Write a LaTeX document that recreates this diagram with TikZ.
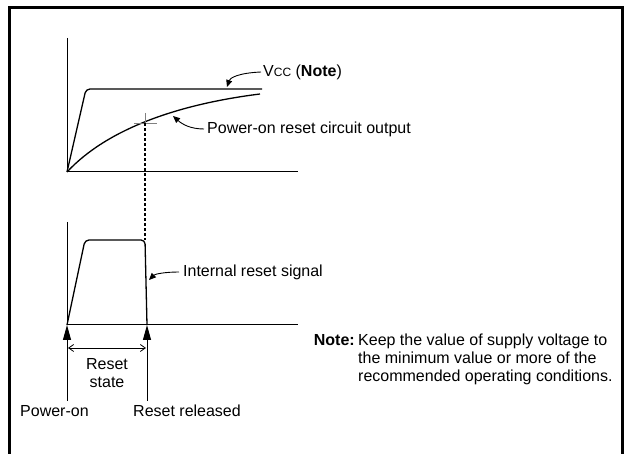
\documentclass[tikz,border=0pt]{standalone}
\usepackage{fontspec}
\setmainfont{Liberation Sans}
\usetikzlibrary{arrows.meta}
\begin{document}
\begin{tikzpicture}[x=1pt,y=-1pt,
  ln/.style={line width=1.3pt},
  axis/.style={line width=1pt},
  lbl/.style={font=\fontsize{16}{18}\selectfont, inner sep=0pt},
  pointer/.style={line width=0.9pt,-{Triangle[length=7pt,width=6pt]}},
  uparrow/.style={line width=1pt,-{Triangle[length=15pt,width=8pt]}},
  span/.style={line width=0.8pt,{Straight Barb[length=5pt,width=7pt]}-{Straight Barb[length=5pt,width=7pt]}}]
\useasboundingbox (0,0) rectangle (630,454);
% frame
\draw[line width=3pt] (9.5,454) -- (9.5,7.5) -- (622.5,7.5) -- (622.5,454);
% top plot axes
\coordinate (o1) at (67,172);
\coordinate (y1) at (67,38);
\coordinate (x1) at (298,172);
\draw[axis] (y1) -- (o1) -- (x1);
% Vcc curve
\coordinate (vccend) at (262,89);
\draw[ln,rounded corners=4pt] (o1) -- (86,89) -- (vccend);
% power-on reset output curve
\coordinate (porend) at (260,94);
\draw[ln] (o1) .. controls (108,128) and (180,104) .. (porend);
% crosshair and dashed line
\coordinate (cross) at (145,123);
\draw[line width=0.6pt,gray] (134,123) -- (157,123);
\draw[line width=0.6pt,gray] (145,113) -- (cross);
\coordinate (dashend) at (145,240);
\draw[line width=1.2pt,dash pattern=on 3pt off 2pt] (cross) -- (dashend);
% bottom plot axes
\coordinate (o2) at (67,325);
\coordinate (y2) at (67,222);
\coordinate (x2) at (298,325);
\draw[axis] (y2) -- (o2) -- (x2);
% internal reset signal
\coordinate (rel) at (147,325);
\draw[ln,rounded corners=4pt] (o2) -- (85,240) -- (dashend) -- (rel);
% labels
\node[lbl,anchor=west] (vcc) at (263,72) {V{\fontsize{12}{12}\selectfont CC} (\textbf{Note})};
\draw[pointer] (vcc.west) ++(-2,0) .. controls (238,73) and (230,78) .. (227,87);
\node[lbl,anchor=west] (por) at (207,129) {Power-on reset circuit output};
\draw[pointer] (por.west) ++(-3,0) .. controls (190,129) and (182,124) .. (173,116);
\node[lbl,anchor=west] (irs) at (183,272) {Internal reset signal};
\draw[pointer] (irs.west) ++(-4,0) .. controls (165,272) and (155,274) .. (149,280);
% bottom arrows
\node[lbl,anchor=base west] (pon) at (20,417) {Power-on};
\node[lbl,anchor=base west] (rr) at (133,417) {Reset released};
\draw[uparrow] (67,401) -- (o2);
\draw[uparrow] (147,401) -- (rel);
\coordinate (sa) at (68,348);
\coordinate (sb) at (146,348);
\draw[span] (sa) -- (sb);
\node[lbl,align=center] (rs) at (107,373) {Reset\\state};
% note
\node[lbl,anchor=base east] (nt) at (355,346) {\textbf{Note:}};
\node[lbl,anchor=north west,align=left] (ntx) at (358,334) {Keep the value of supply voltage to\\the minimum value or more of the\\recommended operating conditions.};
\end{tikzpicture}
\end{document}
